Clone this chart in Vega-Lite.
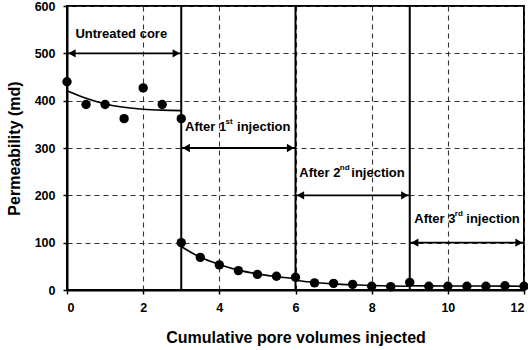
{
  "$schema": "https://vega.github.io/schema/vega-lite/v6.json",
  "width": 457,
  "height": 284,
  "autosize": "none",
  "padding": {"left": 67, "top": 6, "right": 4, "bottom": 60},
  "background": "white",
  "config": {
    "font": "Liberation Sans",
    "view": {"stroke": "black", "strokeWidth": 2},
    "axis": {
      "domainColor": "black",
      "domainWidth": 2,
      "tickColor": "black",
      "tickWidth": 1.5,
      "tickSize": 4,
      "labelFont": "Liberation Sans",
      "labelFontWeight": "bold",
      "labelFontSize": 12.5,
      "labelColor": "black",
      "titleFont": "Liberation Sans",
      "titleFontWeight": "bold",
      "titleFontSize": 16,
      "titleColor": "black",
      "grid": true,
      "gridColor": "#333333",
      "gridDash": [5, 4],
      "gridWidth": 1.1,
      "gridOpacity": 1
    }
  },
  "datasets": {
    "points": [
      {"pv": 0, "perm": 440, "stage": "Untreated core"},
      {"pv": 0.5, "perm": 392, "stage": "Untreated core"},
      {"pv": 1, "perm": 392, "stage": "Untreated core"},
      {"pv": 1.5, "perm": 362, "stage": "Untreated core"},
      {"pv": 2, "perm": 427, "stage": "Untreated core"},
      {"pv": 2.5, "perm": 392, "stage": "Untreated core"},
      {"pv": 3, "perm": 362, "stage": "Untreated core"},
      {"pv": 3, "perm": 100, "stage": "After 1st injection"},
      {"pv": 3.5, "perm": 69, "stage": "After 1st injection"},
      {"pv": 4, "perm": 53, "stage": "After 1st injection"},
      {"pv": 4.5, "perm": 41, "stage": "After 1st injection"},
      {"pv": 5, "perm": 33, "stage": "After 1st injection"},
      {"pv": 5.5, "perm": 29, "stage": "After 1st injection"},
      {"pv": 6, "perm": 27, "stage": "After 1st injection"},
      {"pv": 6.5, "perm": 15, "stage": "After 2nd injection"},
      {"pv": 7, "perm": 14, "stage": "After 2nd injection"},
      {"pv": 7.5, "perm": 12, "stage": "After 2nd injection"},
      {"pv": 8, "perm": 8, "stage": "After 2nd injection"},
      {"pv": 8.5, "perm": 7, "stage": "After 2nd injection"},
      {"pv": 9, "perm": 16, "stage": "After 3rd injection"},
      {"pv": 9.5, "perm": 8, "stage": "After 3rd injection"},
      {"pv": 10, "perm": 8, "stage": "After 3rd injection"},
      {"pv": 10.5, "perm": 8, "stage": "After 3rd injection"},
      {"pv": 11, "perm": 8, "stage": "After 3rd injection"},
      {"pv": 11.5, "perm": 9, "stage": "After 3rd injection"},
      {"pv": 12, "perm": 8, "stage": "After 3rd injection"}
    ],
    "fit": [
      {"pv": 0, "perm": 421, "stage": "Untreated core"},
      {"pv": 0.5, "perm": 405, "stage": "Untreated core"},
      {"pv": 1, "perm": 393, "stage": "Untreated core"},
      {"pv": 1.5, "perm": 386, "stage": "Untreated core"},
      {"pv": 2, "perm": 382, "stage": "Untreated core"},
      {"pv": 2.5, "perm": 380, "stage": "Untreated core"},
      {"pv": 3, "perm": 379, "stage": "Untreated core"},
      {"pv": 3, "perm": 92, "stage": "After 1st injection"},
      {"pv": 3.5, "perm": 69, "stage": "After 1st injection"},
      {"pv": 4, "perm": 54, "stage": "After 1st injection"},
      {"pv": 4.5, "perm": 42, "stage": "After 1st injection"},
      {"pv": 5, "perm": 34, "stage": "After 1st injection"},
      {"pv": 5.5, "perm": 28, "stage": "After 1st injection"},
      {"pv": 6, "perm": 24, "stage": "After 1st injection"},
      {"pv": 6, "perm": 20, "stage": "After 2nd injection"},
      {"pv": 6.5, "perm": 16, "stage": "After 2nd injection"},
      {"pv": 7, "perm": 13, "stage": "After 2nd injection"},
      {"pv": 7.5, "perm": 11, "stage": "After 2nd injection"},
      {"pv": 8, "perm": 9.5, "stage": "After 2nd injection"},
      {"pv": 8.5, "perm": 8.5, "stage": "After 2nd injection"},
      {"pv": 9, "perm": 8, "stage": "After 2nd injection"},
      {"pv": 9, "perm": 9, "stage": "After 3rd injection"},
      {"pv": 10, "perm": 8.5, "stage": "After 3rd injection"},
      {"pv": 11, "perm": 8.3, "stage": "After 3rd injection"},
      {"pv": 12, "perm": 8, "stage": "After 3rd injection"}
    ],
    "stages": [
      {"start": 0, "end": 3, "arrow": 500, "name": "Untreated core", "lead": "", "sup": "", "tail": "", "labelX": 0.22, "labelY": 541},
      {"start": 3, "end": 6, "arrow": 300, "name": "", "lead": "After 1", "sup": "st", "tail": "injection", "labelX": 3.1, "labelY": 344},
      {"start": 6, "end": 9, "arrow": 200, "name": "", "lead": "After 2", "sup": "nd", "tail": "injection", "labelX": 6.1, "labelY": 247},
      {"start": 9, "end": 12, "arrow": 100, "name": "", "lead": "After 3", "sup": "rd", "tail": "injection", "labelX": 9.12, "labelY": 151}
    ],
    "boundaries": [{"pv": 3}, {"pv": 6}, {"pv": 9}]
  },
  "layer": [
    {
      "data": {"name": "boundaries"},
      "mark": {"type": "rule", "color": "black", "strokeWidth": 2},
      "encoding": {
        "x": {
          "field": "pv", "type": "quantitative",
          "scale": {"domain": [0, 12], "nice": false},
          "axis": {"values": [0,1,2,3,4,5,6,7,8,9,10,11,12], "title": "Cumulative pore volumes injected", "labelPadding": 7, "titlePadding": 16}
        }
      }
    },
    {
      "data": {"name": "stages"},
      "mark": {"type": "rule", "color": "black", "strokeWidth": 1.8},
      "encoding": {
        "x": {"field": "start", "type": "quantitative"},
        "x2": {"field": "end"},
        "y": {
          "field": "arrow", "type": "quantitative",
          "scale": {"domain": [0, 600], "nice": false},
          "axis": {"values": [0,100,200,300,400,500,600], "title": "Permeability (md)", "labelPadding": 8, "titlePadding": 12}
        }
      }
    },
    {
      "data": {"name": "stages"},
      "mark": {"type": "point", "shape": "triangle-left", "filled": true, "fill": "black", "stroke": null, "opacity": 1, "size": 70, "xOffset": 5},
      "encoding": {
        "x": {"field": "start", "type": "quantitative"},
        "y": {"field": "arrow", "type": "quantitative"}
      }
    },
    {
      "data": {"name": "stages"},
      "mark": {"type": "point", "shape": "triangle-right", "filled": true, "fill": "black", "stroke": null, "opacity": 1, "size": 70, "xOffset": -5},
      "encoding": {
        "x": {"field": "end", "type": "quantitative"},
        "y": {"field": "arrow", "type": "quantitative"}
      }
    },
    {
      "data": {"name": "fit"},
      "mark": {"type": "line", "color": "black", "strokeWidth": 1.6, "interpolate": "monotone"},
      "encoding": {
        "x": {"field": "pv", "type": "quantitative"},
        "y": {"field": "perm", "type": "quantitative"},
        "detail": {"field": "stage"}
      }
    },
    {
      "data": {"name": "points"},
      "mark": {"type": "circle", "color": "black", "opacity": 1, "size": 88},
      "encoding": {
        "x": {"field": "pv", "type": "quantitative"},
        "y": {"field": "perm", "type": "quantitative"}
      }
    },
    {
      "data": {"name": "stages"},
      "mark": {"type": "text", "align": "left", "baseline": "middle", "font": "Liberation Sans", "fontWeight": "bold", "fontSize": 13, "color": "black"},
      "encoding": {
        "x": {"field": "labelX", "type": "quantitative"},
        "y": {"field": "labelY", "type": "quantitative"},
        "text": {"field": "name"}
      }
    },
    {
      "data": {"name": "stages"},
      "mark": {"type": "text", "align": "left", "baseline": "middle", "font": "Liberation Sans", "fontWeight": "bold", "fontSize": 13, "color": "black"},
      "encoding": {
        "x": {"field": "labelX", "type": "quantitative"},
        "y": {"field": "labelY", "type": "quantitative"},
        "text": {"field": "lead"}
      }
    },
    {
      "data": {"name": "stages"},
      "mark": {"type": "text", "align": "left", "baseline": "middle", "font": "Liberation Sans", "fontWeight": "bold", "fontSize": 8, "color": "black", "dx": 40.5, "dy": -5},
      "encoding": {
        "x": {"field": "labelX", "type": "quantitative"},
        "y": {"field": "labelY", "type": "quantitative"},
        "text": {"field": "sup"}
      }
    },
    {
      "data": {"name": "stages"},
      "mark": {"type": "text", "align": "left", "baseline": "middle", "font": "Liberation Sans", "fontWeight": "bold", "fontSize": 13, "color": "black", "dx": 52},
      "encoding": {
        "x": {"field": "labelX", "type": "quantitative"},
        "y": {"field": "labelY", "type": "quantitative"},
        "text": {"field": "tail"}
      }
    }
  ]
}
